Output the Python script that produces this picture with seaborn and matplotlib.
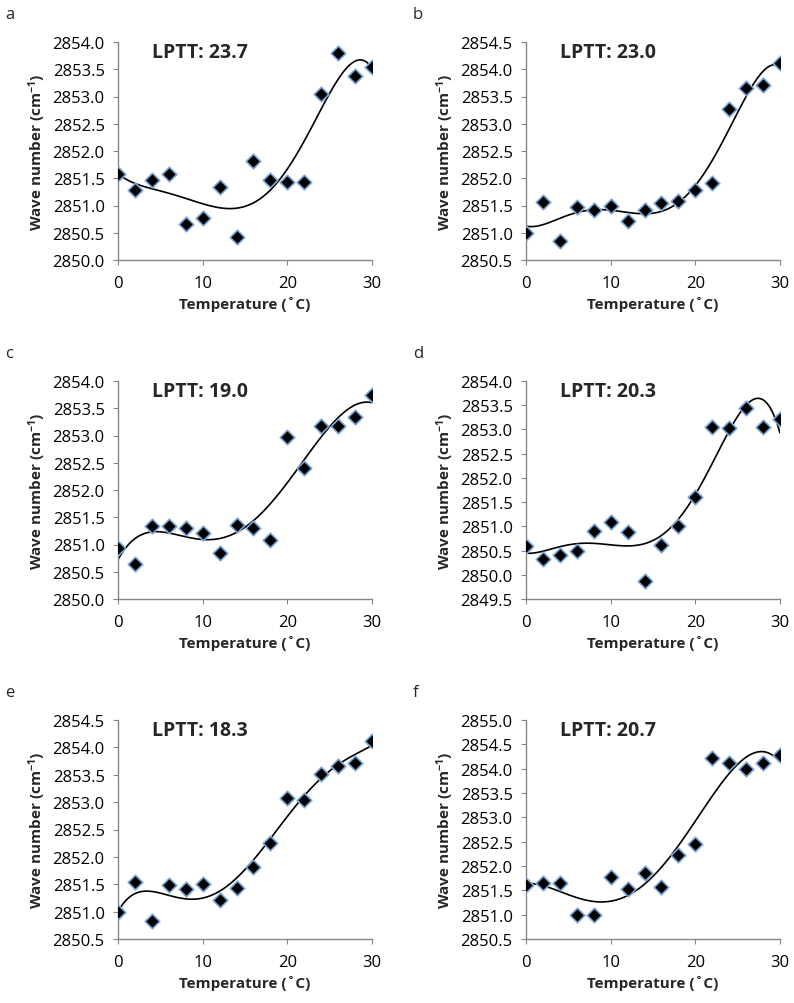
import numpy as np
import pandas as pd
import matplotlib
matplotlib.use("Agg")
import matplotlib.pyplot as plt
import seaborn as sns
from matplotlib.ticker import FormatStrFormatter

sns.set_style("white")
plt.rcParams['font.family'] = ['Open Sans', 'DejaVu Sans']
plt.rcParams['mathtext.default'] = 'regular'

# Data
temps = [0, 2, 4, 6, 8, 10, 12, 14, 16, 18, 20, 22, 24, 26, 28, 30]

wave_a = [2851.58, 2851.29, 2851.47, 2851.58, 2850.66, 2850.77, 2851.34, 2850.43,
          2851.81, 2851.47, 2851.44, 2851.44, 2853.04, 2853.80, 2853.38, 2853.54]
wave_b = [2851.00, 2851.56, 2850.84, 2851.48, 2851.41, 2851.50, 2851.22, 2851.42,
          2851.54, 2851.59, 2851.78, 2851.92, 2853.27, 2853.66, 2853.72, 2854.12]
wave_c = [2850.93, 2850.64, 2851.34, 2851.34, 2851.30, 2851.22, 2850.84, 2851.36,
          2851.31, 2851.08, 2852.97, 2852.41, 2853.18, 2853.18, 2853.34, 2853.74]
wave_d = [2850.59, 2850.32, 2850.41, 2850.50, 2850.91, 2851.09, 2850.89, 2849.88,
          2850.61, 2851.00, 2851.61, 2853.05, 2853.02, 2853.44, 2853.05, 2853.22]
wave_e = [2851.00, 2851.55, 2850.83, 2851.49, 2851.41, 2851.50, 2851.22, 2851.43,
          2851.81, 2852.26, 2853.08, 2853.04, 2853.51, 2853.66, 2853.72, 2854.12]
wave_f = [2851.61, 2851.66, 2851.66, 2850.99, 2850.99, 2851.78, 2851.52, 2851.85,
          2851.57, 2852.23, 2852.45, 2854.21, 2854.11, 2853.99, 2854.11, 2854.28]

letters = ["a", "b", "c", "d", "e", "f"]
lptt = ["23.7", "23.0", "19.0", "20.3", "18.3", "20.7"]
series = [wave_a, wave_b, wave_c, wave_d, wave_e, wave_f]
ylims = [(2850.0, 2854.0), (2850.5, 2854.5), (2850.0, 2854.0),
         (2849.5, 2854.0), (2850.5, 2854.5), (2850.5, 2855.0)]

W, H = 794, 1004
fig = plt.figure(figsize=(W / 100, H / 100), dpi=100)

# axes boxes in pixels: left, top, right, bottom
boxes = [(118, 43, 372, 261), (526, 43, 780, 261),
         (118, 382, 372, 600), (526, 382, 780, 600),
         (118, 721, 372, 940), (526, 721, 780, 940)]

for i in range(6):
    l, t, r, b = boxes[i]
    ax = fig.add_axes([l / W, 1 - b / H, (r - l) / W, (b - t) / H])
    df = pd.DataFrame({"temp": temps, "wave": series[i]})
    # polynomial trend line, as in the original
    sns.regplot(data=df, x="temp", y="wave", order=5, ci=None, ax=ax,
                marker="D",
                scatter_kws={"s": 55, "color": "black", "edgecolors": "#7BA7D8",
                             "linewidths": 1.2, "alpha": 1, "zorder": 3},
                line_kws={"color": "black", "lw": 1.2, "zorder": 2})
    ax.set_xlim(0, 30)
    ax.set_ylim(*ylims[i])
    ax.set_xticks([0, 10, 20, 30])
    ax.set_yticks(np.arange(ylims[i][0], ylims[i][1] + 0.01, 0.5))
    ax.yaxis.set_major_formatter(FormatStrFormatter("%.1f"))
    for s in ["top", "right"]:
        ax.spines[s].set_visible(False)
    for s in ["left", "bottom"]:
        ax.spines[s].set_color("#868686")
        ax.spines[s].set_linewidth(1.0)
    ax.tick_params(axis="both", which="major", direction="out", length=3.6,
                   color="#868686", labelsize=12, labelcolor="black",
                   left=True, bottom=True)
    ax.tick_params(axis="y", pad=6)
    ax.tick_params(axis="x", pad=7)
    ax.set_xlabel("Temperature (˚C)", fontsize=11, fontweight="bold", labelpad=4)
    ax.set_ylabel("Wave number (cm$^{-1}$)", fontsize=11, fontweight="bold", labelpad=3)
    ax.text(0.134, 0.955, "LPTT: " + lptt[i], transform=ax.transAxes,
            fontsize=14, fontweight="bold", ha="left", va="center")
    fig.text((l - 113) / W, 1 - (t - 28) / H, letters[i], fontsize=12,
             ha="left", va="center")

fig.savefig("out.png", dpi=100)
